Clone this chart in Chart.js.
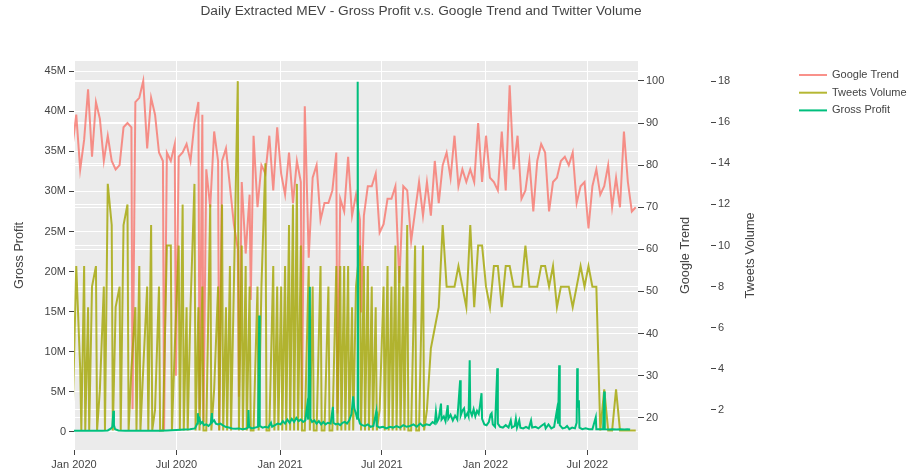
<!DOCTYPE html>
<html><head><meta charset="utf-8">
<script src="https://cdn.jsdelivr.net/npm/chart.js@4.4.1/dist/chart.umd.min.js"></script>
<style>html,body{margin:0;padding:0;background:#fff;}canvas{display:block;}</style>
</head><body>
<canvas id="c" width="909" height="476"></canvas>
<script>
const chartTitle = 'Daily Extracted MEV - Gross Profit v.s. Google Trend and Twitter Volume';
const axisTitles = { profit: 'Gross Profit', trend: 'Google Trend', tweets: 'Tweets Volume' };
const seriesNames = ['Google Trend', 'Tweets Volume', 'Gross Profit'];

const xTickDates = ['2020-01-01','2020-07-01','2021-01-01','2021-07-01','2022-01-01','2022-07-01'];
const xTickLabels = ['Jan 2020','Jul 2020','Jan 2021','Jul 2021','Jan 2022','Jul 2022'];
const profitTicks = [0,5,10,15,20,25,30,35,40,45];        // millions USD
const trendTicks = [20,30,40,50,60,70,80,90,100];
const tweetTicks = [2,4,6,8,10,12,14,16,18];

// weekly readings (Sundays)
const weekDates = [
'2019-12-29','2020-01-05','2020-01-12','2020-01-19','2020-01-26','2020-02-02','2020-02-09','2020-02-16','2020-02-23','2020-03-01',
'2020-03-08','2020-03-15','2020-03-22','2020-03-29','2020-04-05','2020-04-12','2020-04-19','2020-04-26','2020-05-03','2020-05-10',
'2020-05-17','2020-05-24','2020-05-31','2020-06-07','2020-06-14','2020-06-21','2020-06-28','2020-07-05','2020-07-12','2020-07-19',
'2020-07-26','2020-08-02','2020-08-09','2020-08-16','2020-08-23','2020-08-30','2020-09-06','2020-09-13','2020-09-20','2020-09-27',
'2020-10-04','2020-10-11','2020-10-18','2020-10-25','2020-11-01','2020-11-08','2020-11-15','2020-11-22','2020-11-29','2020-12-06',
'2020-12-13','2020-12-20','2020-12-27','2021-01-03','2021-01-10','2021-01-17','2021-01-24','2021-01-31','2021-02-07','2021-02-14',
'2021-02-21','2021-02-28','2021-03-07','2021-03-14','2021-03-21','2021-03-28','2021-04-04','2021-04-11','2021-04-18','2021-04-25',
'2021-05-02','2021-05-09','2021-05-16','2021-05-23','2021-05-30','2021-06-06','2021-06-13','2021-06-20','2021-06-27','2021-07-04',
'2021-07-11','2021-07-18','2021-07-25','2021-08-01','2021-08-08','2021-08-15','2021-08-22','2021-08-29','2021-09-05','2021-09-12',
'2021-09-19','2021-09-26','2021-10-03','2021-10-10','2021-10-17','2021-10-24','2021-10-31','2021-11-07','2021-11-14','2021-11-21',
'2021-11-28','2021-12-05','2021-12-12','2021-12-19','2021-12-26','2022-01-02','2022-01-09','2022-01-16','2022-01-23','2022-01-30',
'2022-02-06','2022-02-13','2022-02-20','2022-02-27','2022-03-06','2022-03-13','2022-03-20','2022-03-27','2022-04-03','2022-04-10',
'2022-04-17','2022-04-24','2022-05-01','2022-05-08','2022-05-15','2022-05-22','2022-05-29','2022-06-05','2022-06-12','2022-06-19',
'2022-06-26','2022-07-03','2022-07-10','2022-07-17','2022-07-24','2022-07-31','2022-08-07','2022-08-14','2022-08-21','2022-08-28',
'2022-09-04','2022-09-11','2022-09-18','2022-09-25'];

const googleTrend = [
84,92,79,86,98,82,95,91,81,87,
81,79,80,89,90,89,95,96,100,84,
96,92,83,81,83,81,85,82,83,85,
81,90,95,92,79,70,88,81,81,84,
75,66,60,76,59,73,87,70,80,78,
87,74,89,78,73,83,71,81,76,94,
58,77,80,67,71,71,74,83,72,69,
82,68,73,67,68,75,75,78,64,66,
72,72,75,52,75,74,62,69,76,68,
76,68,81,71,80,83,77,87,75,79,
76,79,76,90,76,87,77,76,74,88,
74,99,79,87,72,74,81,69,81,85,
83,69,76,77,81,82,80,83,71,75,
76,65,75,79,73,75,80,70,77,70,
88,76,69,70];

const tweetsVolume = [
1,9,4,9,7,8,9,3,8,13,
11,7,8,11,12,4,7,9,4,8,
11,2,8,1,10,10,5,10,12,7,
7,13,7,8,1,12,3,8,12,7,
9,8,18,10,9,8,1,8,8,14,
1,9,8,8,9,11,12,13,10,1,
9,8,1,9,1,8,1,9,9,9,
9,7,8,10,9,9,8,7,2,8,
9,8,10,9,8,11,1,10,1,10,
2,5,6,7,11,8,8,8,9,8,
7,11,7,10,10,8,7,9,9,7,
9,9,8,8,8,10,8,8,8,9,
9,8,9,7,8,8,8,7,8,9,
8,9,8,8,1,3,1,1,3,1,
1,1,1,1];

// off-week readings
const googleDipDates = ['2020-04-14','2020-06-09','2020-06-30','2020-08-11','2020-08-18','2020-09-15','2020-10-20','2020-11-10','2021-02-09','2021-04-13','2021-05-25'];
const googleDips = [22,17,30,22,19,17,25,48,22,21,45];

const tweetDropDates = ['2020-01-14','2020-01-21','2020-01-28','2020-02-11','2020-02-25','2020-03-10','2020-03-24','2020-04-07','2020-04-21','2020-04-28',
'2020-05-12','2020-05-19','2020-06-02','2020-06-23','2020-07-07','2020-07-14','2020-07-21','2020-08-04','2020-08-11','2020-08-18',
'2020-09-01','2020-09-15','2020-09-22','2020-09-29','2020-10-06','2020-10-20','2020-10-27','2020-11-03','2020-11-10','2020-11-24',
'2020-12-08','2020-12-22','2020-12-29','2021-01-05','2021-01-12','2021-01-19','2021-01-26','2021-02-02','2021-02-09','2021-02-23',
'2021-03-02','2021-03-16','2021-03-30','2021-04-13','2021-04-20','2021-04-27','2021-05-04','2021-05-11','2021-05-25','2021-06-01',
'2021-06-08','2021-06-15','2021-06-22','2021-07-06','2021-07-13','2021-07-20','2021-07-27','2021-08-03','2021-08-10','2021-08-17',
'2021-08-31','2021-09-14'];
const tweetDrops = [1,1,1,1,1,1,1,1,1,1, 1,1,1,1,1,1,1,1,1,1, 1,1,1,1,1,1,1,1,1,1, 1,1,1,1,1,1,1,1,1,1, 1,1,1,1,1,1,1,1,1,1, 1,1,1,1,1,1,1,1,1,1, 1,1];

// daily gross profit (millions USD), readings
const profitDates = [
'2020-01-01','2020-01-10','2020-01-20','2020-01-30','2020-02-10','2020-02-20','2020-03-01','2020-03-07','2020-03-09','2020-03-11',
'2020-03-12','2020-03-14','2020-03-20','2020-04-01','2020-04-15','2020-05-01','2020-05-15','2020-06-01','2020-06-15','2020-07-01',
'2020-07-15','2020-07-25','2020-08-03','2020-08-07','2020-08-08','2020-08-09','2020-08-11','2020-08-13','2020-08-16','2020-08-19',
'2020-08-23','2020-08-27','2020-08-31','2020-09-02','2020-09-03','2020-09-06','2020-09-09','2020-09-13','2020-09-17','2020-09-21',
'2020-09-26','2020-10-02','2020-10-08','2020-10-14','2020-10-20','2020-10-26','2020-11-01','2020-11-05','2020-11-06','2020-11-07',
'2020-11-12','2020-11-18','2020-11-23','2020-11-25','2020-11-26','2020-12-01','2020-12-06','2020-12-11','2020-12-16','2020-12-18',
'2020-12-23','2020-12-28','2021-01-02','2021-01-06','2021-01-10','2021-01-14','2021-01-18','2021-01-22','2021-01-26','2021-01-30',
'2021-02-03','2021-02-07','2021-02-11','2021-02-15','2021-02-18','2021-02-20','2021-02-23','2021-02-24','2021-02-27','2021-03-03',
'2021-03-07','2021-03-11','2021-03-15','2021-03-19','2021-03-23','2021-03-27','2021-04-01','2021-04-05','2021-04-06','2021-04-10',
'2021-04-14','2021-04-18','2021-04-22','2021-04-26','2021-04-30','2021-05-04','2021-05-08','2021-05-11','2021-05-13','2021-05-16',
'2021-05-18','2021-05-19','2021-05-20','2021-05-23','2021-05-27','2021-06-01','2021-06-06','2021-06-11','2021-06-16','2021-06-21',
'2021-06-22','2021-06-27','2021-07-03','2021-07-09','2021-07-15','2021-07-21','2021-07-27','2021-08-02','2021-08-08','2021-08-14',
'2021-08-20','2021-08-26','2021-09-01','2021-09-07','2021-09-12','2021-09-18','2021-09-24','2021-09-29','2021-10-03','2021-10-05',
'2021-10-07','2021-10-10','2021-10-14','2021-10-15','2021-10-19','2021-10-22','2021-10-26','2021-10-27','2021-10-31','2021-11-04',
'2021-11-08','2021-11-12','2021-11-17','2021-11-18','2021-11-21','2021-11-24','2021-11-26','2021-11-30','2021-12-02','2021-12-04',
'2021-12-05','2021-12-08','2021-12-11','2021-12-14','2021-12-17','2021-12-20','2021-12-22','2021-12-25','2021-12-26','2021-12-30',
'2022-01-03','2022-01-07','2022-01-10','2022-01-12','2022-01-14','2022-01-18','2022-01-22','2022-01-23','2022-01-27','2022-02-01',
'2022-02-06','2022-02-11','2022-02-15','2022-02-17','2022-02-22','2022-02-24','2022-02-26','2022-03-02','2022-03-04','2022-03-09',
'2022-03-14','2022-03-19','2022-03-23','2022-03-25','2022-03-31','2022-04-05','2022-04-10','2022-04-16','2022-04-18','2022-04-23',
'2022-04-28','2022-05-03','2022-05-08','2022-05-10','2022-05-12','2022-05-13','2022-05-18','2022-05-23','2022-05-26','2022-05-30',
'2022-06-04','2022-06-09','2022-06-12','2022-06-13','2022-06-14','2022-06-16','2022-06-17','2022-06-22','2022-06-28','2022-07-04',
'2022-07-10','2022-07-16','2022-07-17','2022-07-23','2022-07-29','2022-07-31','2022-08-01','2022-08-08','2022-08-15','2022-08-22',
'2022-08-29','2022-09-05','2022-09-10','2022-09-15'];
const grossProfit = [
0.1,0.12,0.1,0.12,0.1,0.12,0.15,0.4,0.6,2.6,
0.8,0.3,0.15,0.12,0.1,0.12,0.1,0.12,0.15,0.2,
0.25,0.3,0.4,1.0,2.3,1.3,1.6,1.0,1.2,0.8,
0.9,0.7,1.0,2.3,1.2,1.4,1.0,0.9,1.0,0.8,
0.6,0.5,0.4,0.35,0.4,0.3,0.35,0.5,2.7,0.6,
0.4,0.5,0.6,14.5,0.7,0.5,0.6,0.5,1.1,0.6,
0.8,1.0,0.9,1.3,1.0,1.5,1.1,1.6,1.2,1.7,
1.3,1.5,1.2,1.4,3.1,1.5,18.1,1.6,1.2,1.4,
1.0,1.3,0.9,1.2,0.9,1.1,1.0,3.1,1.1,0.9,
1.0,0.8,1.1,1.2,1.0,1.4,2.2,4.4,2.9,2.2,
1.6,43.7,1.8,1.0,0.8,0.7,0.9,0.6,0.7,2.5,
0.7,0.5,0.6,0.4,0.6,0.5,0.7,0.5,0.8,0.6,
0.7,0.9,0.6,1.0,0.7,0.9,0.8,1.2,1.0,2.5,
1.2,1.6,3.5,1.5,1.9,1.3,3.3,1.6,2.1,1.4,
2.0,1.5,6.4,2.0,2.6,2.9,1.8,2.3,1.9,8.9,
2.6,2.0,2.8,1.9,2.6,2.2,3.1,4.8,1.6,0.9,
0.8,1.2,2.1,2.3,0.9,0.6,7.9,1.0,0.6,0.5,
0.8,0.5,1.4,0.5,0.7,1.6,0.5,1.4,0.5,0.4,
0.6,0.4,1.4,0.5,0.6,0.4,0.7,1.0,0.4,0.9,
0.4,0.6,2.7,1.0,8.3,0.8,0.4,0.5,0.7,0.3,
0.5,0.4,1.1,7.9,3.0,3.9,0.5,0.3,0.4,0.3,
0.3,1.8,0.3,0.3,0.3,5.0,0.3,0.25,0.3,0.25,
0.3,0.25,0.3,0.25];

const xStart = '2020-01-01', xEnd = '2022-09-29';
const DAY = 864e5, T0 = Date.parse(xStart);
const toDay = d => (Date.parse(d) - T0) / DAY;
const byX = (a, b) => a.x - b.x;

const googlePts = weekDates.map((d, i) => ({x: toDay(d), y: googleTrend[i]}))
  .concat(googleDipDates.map((d, i) => ({x: toDay(d), y: googleDips[i]}))).sort(byX);
const tweetPts = weekDates.map((d, i) => ({x: toDay(d), y: tweetsVolume[i]}))
  .concat(tweetDropDates.map((d, i) => ({x: toDay(d), y: tweetDrops[i]}))).sort(byX);
const profitPts = profitDates.map((d, i) => ({x: toDay(d), y: grossProfit[i]}));

const FONT = '"Liberation Sans", Arial, sans-serif';
const TXT = '#444';
const tickFont = {family: FONT, size: 11};

const decor = {
  id: 'decor',
  beforeDraw(chart) {
    const {ctx, chartArea: a} = chart;
    ctx.save();
    ctx.fillStyle = '#EBEBEB';
    ctx.fillRect(a.left, a.top, a.right - a.left, a.bottom - a.top);
    ctx.restore();
  },
  afterDraw(chart) {
    const {ctx, chartArea: a} = chart;
    const midY = (a.top + a.bottom) / 2;
    ctx.save();
    ctx.fillStyle = TXT;
    ctx.textAlign = 'center';
    ctx.textBaseline = 'middle';
    ctx.font = '13.7px ' + FONT;
    ctx.fillText(chartTitle, 421, 11);
    ctx.font = '12.7px ' + FONT;
    [[axisTitles.profit, 19], [axisTitles.trend, 685], [axisTitles.tweets, 750]].forEach(([t, x]) => {
      ctx.save(); ctx.translate(x, midY); ctx.rotate(-Math.PI / 2); ctx.fillText(t, 0, 0); ctx.restore();
    });
    ctx.font = '11px ' + FONT;
    ctx.textAlign = 'left';
    chart.data.datasets.forEach((ds, i) => {
      const y = 75 + i * 17.7;
      ctx.strokeStyle = ds.borderColor; ctx.lineWidth = 2;
      ctx.beginPath(); ctx.moveTo(799, y); ctx.lineTo(827, y); ctx.stroke();
      ctx.fillText(ds.label, 832, y);
    });
    ctx.restore();
  }
};

const yAxis = (pos, weight, min, max, ticks, width, fmt, tl, pad) => ({
  position: pos, weight, min, max,
  afterBuildTicks: s => { s.ticks = ticks.map(v => ({value: v})); },
  afterFit: s => { s.width = width; },
  ticks: {callback: fmt, color: TXT, font: tickFont, padding: pad, autoSkip: false},
  grid: {color: '#ffffff', lineWidth: 1, tickColor: TXT, tickLength: tl, drawTicks: true},
  border: {display: false}
});

new Chart(document.getElementById('c'), {
  type: 'line',
  data: {
    datasets: [
      {label: seriesNames[0], yAxisID: 'y1', data: googlePts, borderColor: 'rgba(248,118,109,0.8)', borderWidth: 2, pointRadius: 0, spanGaps: true, order: 3, clip: 0},
      {label: seriesNames[1], yAxisID: 'y2', data: tweetPts, borderColor: 'rgba(163,165,0,0.8)', borderWidth: 2, pointRadius: 0, spanGaps: true, order: 2, clip: 0},
      {label: seriesNames[2], yAxisID: 'y', data: profitPts, borderColor: 'rgba(0,191,125,1)', borderWidth: 2, pointRadius: 0, spanGaps: true, order: 1, clip: 0}
    ]
  },
  options: {
    responsive: false, animation: false, devicePixelRatio: 1,
    layout: {padding: {top: 61, right: 119, bottom: 0, left: 0}},
    plugins: {legend: {display: false}, title: {display: false}, tooltip: {enabled: false}},
    elements: {line: {tension: 0, borderJoinStyle: 'miter'}},
    scales: {
      x: {
        type: 'linear', min: 0, max: toDay(xEnd),
        afterBuildTicks: s => { s.ticks = xTickDates.map(d => ({value: toDay(d)})); },
        afterFit: s => { s.height = 26; },
        ticks: {callback: (v, i) => xTickLabels[i], color: TXT, font: tickFont, autoSkip: false, maxRotation: 0, padding: 3},
        grid: {color: '#ffffff', lineWidth: 1, tickColor: TXT, tickLength: 5},
        border: {display: false}
      },
      y: yAxis('left', 0, -2.3, 46.3, profitTicks, 74, v => v === 0 ? '0' : v + 'M', 5, 3),
      y1: yAxis('right', 0, 12.33, 104.75, trendTicks, 73, v => String(v), 6, 2),
      y2: yAxis('right', 1, 0.05, 18.98, tweetTicks, 79, v => String(v), 5, 2)
    }
  },
  plugins: [decor]
});
</script>
</body></html>
